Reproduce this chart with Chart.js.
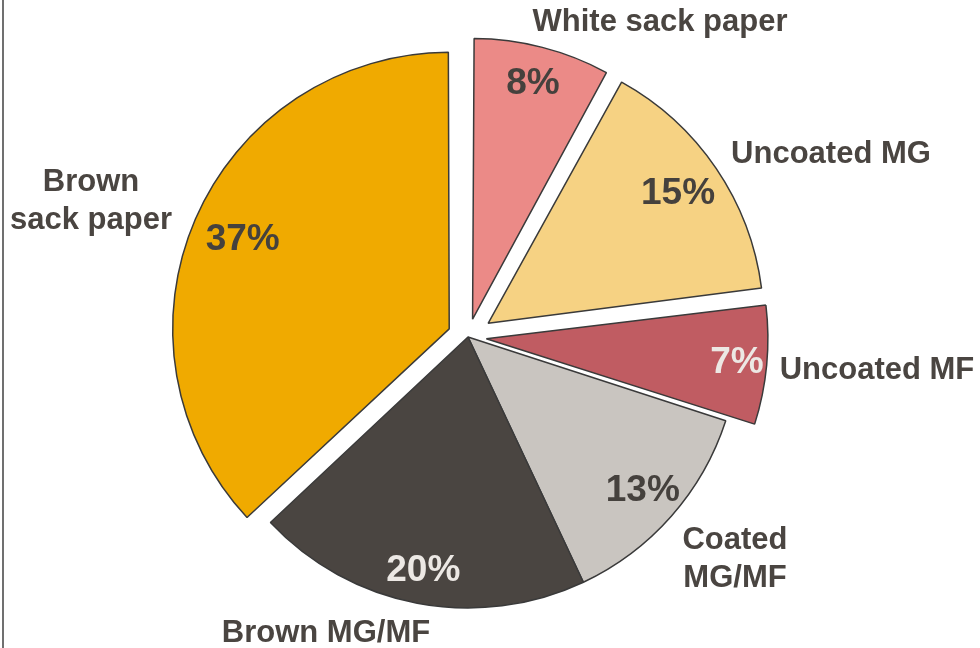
<!DOCTYPE html>
<html>
<head>
<meta charset="utf-8">
<style>
  html, body { margin: 0; padding: 0; background: #fff; }
  #wrap { width: 980px; height: 648px; position: relative; }
</style>
<script src="https://cdn.jsdelivr.net/npm/chart.js@4.4.1/dist/chart.umd.min.js"></script>
</head>
<body>
<div id="wrap"><canvas id="pieChart" width="980" height="648"></canvas></div>
<script>
// paper grade shares, clockwise from 12 o'clock
const categories = ['White sack paper', 'Uncoated MG', 'Uncoated MF', 'Coated MG/MF', 'Brown MG/MF', 'Brown sack paper'];
const shares = [8, 15, 7, 13, 20, 37];
const labelLines = [['White sack paper'], ['Uncoated MG'], ['Uncoated MF'], ['Coated', 'MG/MF'], ['Brown MG/MF'], ['Brown', 'sack paper']];

const sliceColors = ['#EB8A87', '#F6D283', '#C05C62', '#C9C5C0', '#4A4541', '#F0AA00'];
// how far each slice is pulled out of the pie (px)
const explode = [28, 29, 29, 0, 0, 26];
const pctColors = ['#45413d', '#45413d', '#ECE8E4', '#45413d', '#ECE8E4', '#45413d'];
// radial position of the percentage, as a fraction of the radius
const pctRadius = [0.86, 0.83, 0.89, 0.86, 0.88, 0.81];
// category label anchors relative to the pie centre (px)
const labelAnchor = [[192, -315], [363, -183], [409, 33], [267, 203], [-142, 296], [-377, -155]];
const lineGap = 38;

const textColor = '#4A4541';

// ArcElement shifts a slice by offset/4 * (2 - sin(circumference)),
// so turn the wanted pixel shift into the option value
const arcOffsets = explode.map((px, i) => {
    const circ = shares[i] / 100 * 2 * Math.PI;
    return px * 4 / (2 - Math.sin(Math.min(Math.PI, circ)));
});

const sliceLabels = {
    id: 'sliceLabels',
    afterDatasetsDraw(chart) {
        const ctx = chart.ctx;
        const meta = chart.getDatasetMeta(0);
        ctx.save();
        ctx.textAlign = 'center';
        ctx.textBaseline = 'middle';
        meta.data.forEach((arc, i) => {
            const p = arc.getProps(['x', 'y', 'startAngle', 'endAngle', 'outerRadius']);
            const mid = (p.startAngle + p.endAngle) / 2;
            const d = explode[i] + pctRadius[i] * p.outerRadius;
            ctx.font = 'bold 37px "Liberation Sans", Arial, sans-serif';
            ctx.fillStyle = pctColors[i];
            ctx.fillText(shares[i] + '%', p.x + Math.cos(mid) * d, p.y + Math.sin(mid) * d);

            ctx.font = 'bold 31px "Liberation Sans", Arial, sans-serif';
            ctx.fillStyle = textColor;
            labelLines[i].forEach((line, k) => {
                ctx.fillText(line, p.x + labelAnchor[i][0], p.y + labelAnchor[i][1] + k * lineGap);
            });
        });
        // thin frame line on the left edge
        ctx.fillStyle = '#707070';
        ctx.fillRect(2, 0, 2, chart.height);
        ctx.restore();
    }
};

new Chart(document.getElementById('pieChart'), {
    type: 'pie',
    data: {
        labels: categories,
        datasets: [{
            data: shares,
            backgroundColor: sliceColors,
            borderColor: '#3a3a3a',
            borderWidth: 1.5,
            offset: arcOffsets
        }]
    },
    options: {
        responsive: false,
        animation: false,
        radius: 271,
        layout: { padding: { left: 0, right: 44, top: 26, bottom: 0 } },
        plugins: {
            legend: { display: false },
            tooltip: { enabled: false }
        }
    },
    plugins: [sliceLabels]
});
</script>
</body>
</html>
